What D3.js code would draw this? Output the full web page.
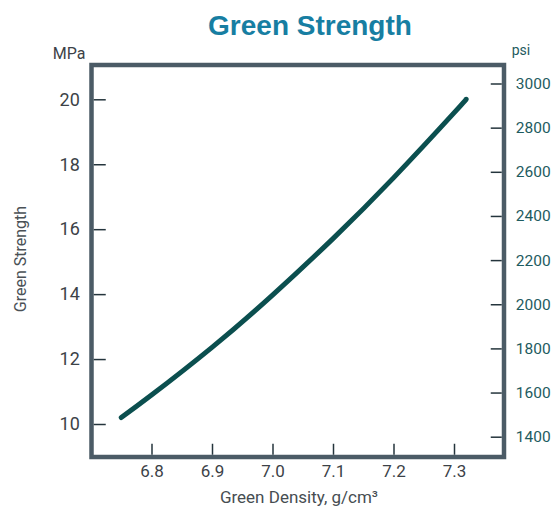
<!DOCTYPE html>
<html>
<head>
<meta charset="utf-8">
<script src="https://cdn.jsdelivr.net/npm/d3@7"></script>
<style>
  html, body { margin: 0; padding: 0; background: #ffffff; }
  svg { display: block; }
</style>
</head>
<body>
<svg id="chart" width="557" height="506"></svg>
<script>
// ---- data ----
const density = [6.75, 6.8, 6.9, 7.0, 7.1, 7.2, 7.3, 7.32];
const strengthMPa = [10.2, 10.89, 12.36, 13.97, 15.71, 17.58, 19.58, 20.0];
const xTicks = [6.8, 6.9, 7.0, 7.1, 7.2, 7.3];
const mpaTicks = [10, 12, 14, 16, 18, 20];
const psiTicks = [1400, 1600, 1800, 2000, 2200, 2400, 2600, 2800, 3000];

const title = "Green Strength";
const xTitle = "Green Density, g/cm\u00B3";
const yTitle = "Green Strength";
const leftUnit = "MPa";
const rightUnit = "psi";

// ---- layout ----
const svg = d3.select("#chart");
const frame = { x0: 91.5, x1: 504, y0: 65, y1: 457, sw: 4.5 };
const inner = { l: frame.x0 + frame.sw / 2, r: frame.x1 - frame.sw / 2, b: frame.y1 - frame.sw / 2 };

const x = d3.scaleLinear().domain([6.8, 7.3]).range([151.5, 454]);
const yL = d3.scaleLinear().domain([10, 20]).range([424, 99.3]);
const yR = d3.scaleLinear().domain([1400, 3000]).range([436.7, 83.5]);

const font = "Roboto, 'Liberation Sans', Arial, sans-serif";

// title
svg.append("text")
  .attr("x", 310).attr("y", 35)
  .attr("text-anchor", "middle")
  .attr("font-family", "'Liberation Sans', Arial, sans-serif")
  .attr("font-weight", "bold")
  .attr("font-size", 28)
  .attr("fill", "#177ea2")
  .text(title);

// frame
svg.append("rect")
  .attr("x", frame.x0).attr("y", frame.y0)
  .attr("width", frame.x1 - frame.x0).attr("height", frame.y1 - frame.y0)
  .attr("fill", "none")
  .attr("stroke", "#4b5b66")
  .attr("stroke-width", frame.sw);

// axes
function styleAxis(g, color) {
  g.select(".domain").remove();
  g.selectAll(".tick line").attr("stroke", "#24343c").attr("stroke-width", 1.5);
  g.selectAll(".tick text").attr("fill", color).attr("font-family", font);
}

const gL = svg.append("g")
  .attr("transform", `translate(${inner.l},0)`)
  .call(d3.axisLeft(yL).tickValues(mpaTicks).tickSize(-12).tickPadding(14).tickFormat(d3.format("d")));
styleAxis(gL, "#3c4247");
gL.selectAll(".tick text").attr("font-size", 18);

const gR = svg.append("g")
  .attr("transform", `translate(${inner.r},0)`)
  .call(d3.axisRight(yR).tickValues(psiTicks).tickSize(-11).tickPadding(14).tickFormat(d3.format("d")));
styleAxis(gR, "#1e5b60");
gR.selectAll(".tick text").attr("font-size", 15.5);

const gB = svg.append("g")
  .attr("transform", `translate(0,${inner.b})`)
  .call(d3.axisBottom(x).tickValues(xTicks).tickSize(-11).tickPadding(10).tickFormat(d3.format(".1f")));
styleAxis(gB, "#3c4247");
gB.selectAll(".tick text").attr("font-size", 17);

// unit labels
svg.append("text")
  .attr("x", 69).attr("y", 58.5)
  .attr("text-anchor", "middle")
  .attr("font-family", font).attr("font-size", 16)
  .attr("fill", "#3c4247")
  .text(leftUnit);

svg.append("text")
  .attr("x", 521).attr("y", 55)
  .attr("text-anchor", "middle")
  .attr("font-family", font).attr("font-size", 14)
  .attr("fill", "#1e5b60")
  .text(rightUnit);

// axis titles
svg.append("text")
  .attr("x", 299).attr("y", 503)
  .attr("text-anchor", "middle")
  .attr("font-family", font).attr("font-size", 17)
  .attr("fill", "#464d52")
  .text(xTitle);

svg.append("text")
  .attr("transform", "translate(26,259) rotate(-90)")
  .attr("text-anchor", "middle")
  .attr("font-family", font).attr("font-size", 16)
  .attr("fill", "#4a5156")
  .text(yTitle);

// curve
const pts = density.map((d, i) => [d, strengthMPa[i]]);
svg.append("path")
  .datum(pts)
  .attr("fill", "none")
  .attr("stroke", "#0b4f4f")
  .attr("stroke-width", 5)
  .attr("stroke-linecap", "round")
  .attr("d", d3.line().x(d => x(d[0])).y(d => yL(d[1])).curve(d3.curveNatural));
</script>
</body>
</html>
